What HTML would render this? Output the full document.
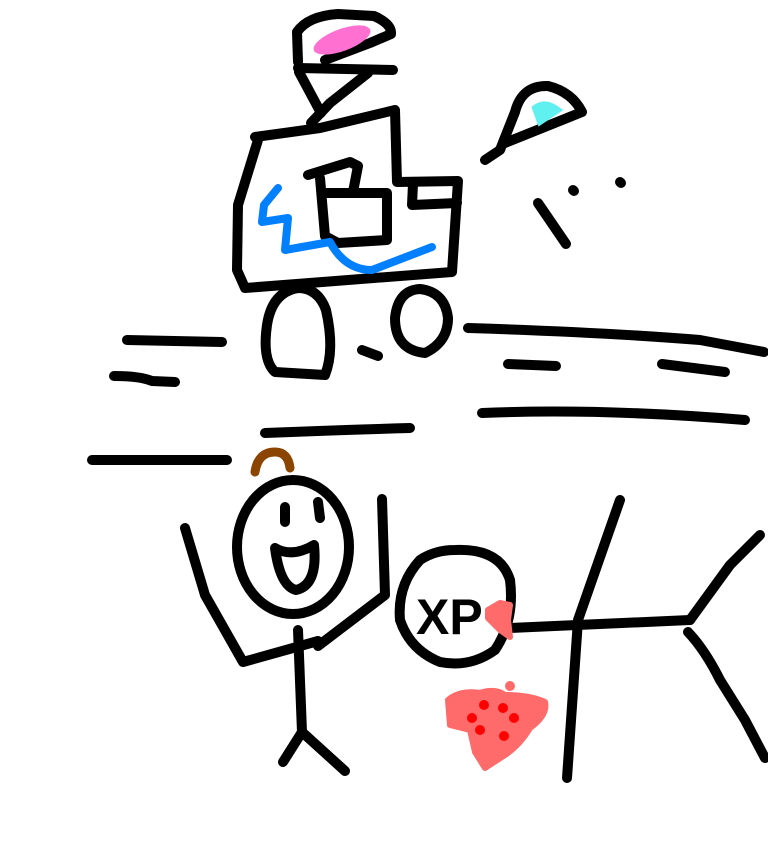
<!DOCTYPE html>
<html><head><style>html,body{margin:0;padding:0;background:#fff;width:768px;height:866px;overflow:hidden}</style></head>
<body>
<svg width="768" height="866" viewBox="0 0 768 866" xmlns="http://www.w3.org/2000/svg">
<rect width="768" height="866" fill="#fff"/>
<g fill="none" stroke="#000" stroke-width="10" stroke-linecap="round" stroke-linejoin="round">
<!-- hat -->
<path d="M298,62 L297,32 Q308,16 338,14 L374,16 Q392,24 391,34 L370,43 L325,60"/>
<path d="M298,68 L393,70"/>
<path d="M299,72 L321,113 M368,73 L330,103 L311,123"/>
<!-- truck -->
<path d="M255,137 L320,128 L395,110 L397,182 L458,181 L452,272 L245,288 L237,270 L238,205 L258,140"/>
<path d="M413,184 L412,205 L457,203"/>
<path d="M308,175 L350,162 L358,166 L353,192 M322,193 L387,193 L387,240 L338,243 L325,236 L320,178"/>
<!-- wheels -->
<path d="M298,288 Q272,292 267,325 Q262,360 275,372 L325,375 Q335,350 326,310 Q318,288 298,288 Z"/>
<path d="M420,289 Q398,290 395,318 Q395,350 425,353 Q448,342 448,318 Q445,292 420,289 Z"/>
<path d="M362,350 L378,356"/>
<!-- small cone -->
<path d="M485,160 L500,150 L515,112 Q522,85 548,86 Q572,92 582,112 L505,143"/>
<path d="M573,190 L574,191 M620,182 L621,183 M538,203 L566,244"/>
<!-- road -->
<path d="M127,340 L222,342"/>
<path d="M114,376 Q140,376 152,381 L175,382"/>
<path d="M468,328 Q600,332 700,340 L764,352"/>
<path d="M508,364 L556,366"/>
<path d="M662,364 L725,372"/>
<path d="M482,413 Q600,408 745,420"/>
<path d="M265,433 Q340,430 410,428"/>
<path d="M92,460 L227,460"/>
<!-- stick man -->
<ellipse cx="293" cy="547" rx="56" ry="67"/>
<path d="M285,507 L285,522 M318,502 L320,518"/>
<path d="M275,548 Q292,558 314,545 Q318,585 296,590 Q280,586 275,548 Z"/>
<path d="M185,528 L205,595 L243,662 L318,641"/>
<path d="M382,499 L385,595 L318,646"/>
<path d="M298,630 L302,732 L283,762 M302,732 L345,771"/>
<!-- dead man -->
<path d="M455,550 Q500,548 510,580 Q515,620 495,650 Q470,668 440,662 Q410,650 400,620 Q397,585 420,560 Q435,550 455,550 Z"/>
<path d="M510,628 L690,620"/>
<path d="M620,500 L578,620 L567,778"/>
<path d="M690,620 L730,565 L760,535"/>
<path d="M688,632 Q705,650 720,680 L745,720 L765,758"/>
</g>
<text x="416" y="634" font-family="Liberation Sans, sans-serif" font-weight="bold" font-size="50" fill="#000">XP</text>
<!-- color -->
<path d="M255,472 Q258,452 275,452 Q288,452 290,468" fill="none" stroke="#8b4500" stroke-width="9" stroke-linecap="round"/>
<ellipse cx="342" cy="40" rx="30" ry="11" transform="rotate(-20 342 40)" fill="#ff70d0"/>
<path d="M535,108 Q545,100 558,110 L540,122 Z" fill="#60f0f0" stroke="#60f0f0" stroke-width="6"/>
<path d="M278,188 L264,205 L262,222 L288,218 L285,250 L330,242 Q345,270 372,270 L432,247" fill="none" stroke="#0080ff" stroke-width="8" stroke-linecap="round" stroke-linejoin="round"/>
<path d="M488,610 L500,603 L510,605 L508,620 L510,637 L500,630 L488,618 Z" fill="#ff6a6a" stroke="#ff6a6a" stroke-width="6" stroke-linejoin="round"/>
<path d="M448,700 Q460,690 480,693 Q495,688 505,695 Q530,695 545,702 Q548,715 530,728 Q520,745 505,755 L485,768 L475,752 L470,730 L450,725 Z" fill="#ff6a6a" stroke="#ff6a6a" stroke-width="6" stroke-linejoin="round"/>
<circle cx="510" cy="686" r="5" fill="#ff6a6a"/>
<g fill="#f00"><circle cx="484" cy="705" r="5"/><circle cx="472" cy="718" r="5"/><circle cx="480" cy="730" r="5"/><circle cx="503" cy="708" r="5"/><circle cx="514" cy="718" r="5"/><circle cx="504" cy="736" r="5"/></g>
</svg>
</body></html>
